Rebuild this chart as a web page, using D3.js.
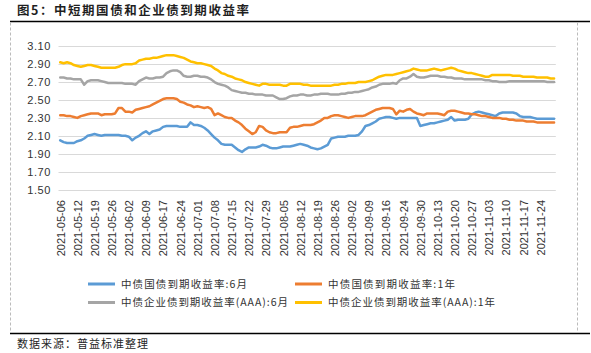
<!DOCTYPE html>
<html><head><meta charset="utf-8">
<script src="https://cdn.jsdelivr.net/npm/d3@7"></script>
<style>
html,body{margin:0;padding:0;background:#fff;}
svg{display:block;}
</style></head>
<body>
<svg id="chart" width="591" height="353"></svg>
<script>
const titleText = "图5：中短期国债和企业债到期收益率";
const sourceText = "数据来源：普益标准整理";

const dates = [
"2021-05-06","2021-05-07","2021-05-08","2021-05-10","2021-05-11","2021-05-12","2021-05-13","2021-05-14","2021-05-17","2021-05-18",
"2021-05-19","2021-05-20","2021-05-21","2021-05-24","2021-05-25","2021-05-26","2021-05-27","2021-05-28","2021-05-31","2021-06-01",
"2021-06-02","2021-06-03","2021-06-04","2021-06-07","2021-06-08","2021-06-09","2021-06-10","2021-06-11","2021-06-15","2021-06-16",
"2021-06-17","2021-06-18","2021-06-21","2021-06-22","2021-06-23","2021-06-24","2021-06-25","2021-06-28","2021-06-29","2021-06-30",
"2021-07-01","2021-07-02","2021-07-05","2021-07-06","2021-07-07","2021-07-08","2021-07-09","2021-07-12","2021-07-13","2021-07-14",
"2021-07-15","2021-07-16","2021-07-19","2021-07-20","2021-07-21","2021-07-22","2021-07-23","2021-07-26","2021-07-27","2021-07-28",
"2021-07-29","2021-07-30","2021-08-02","2021-08-03","2021-08-04","2021-08-05","2021-08-06","2021-08-09","2021-08-10","2021-08-11",
"2021-08-12","2021-08-13","2021-08-16","2021-08-17","2021-08-18","2021-08-19","2021-08-20","2021-08-23","2021-08-24","2021-08-25",
"2021-08-26","2021-08-27","2021-08-30","2021-08-31","2021-09-01","2021-09-02","2021-09-03","2021-09-06","2021-09-07","2021-09-08",
"2021-09-09","2021-09-10","2021-09-13","2021-09-14","2021-09-15","2021-09-16","2021-09-17","2021-09-18","2021-09-22","2021-09-23",
"2021-09-24","2021-09-26","2021-09-27","2021-09-28","2021-09-29","2021-09-30","2021-10-08","2021-10-09","2021-10-11","2021-10-12",
"2021-10-13","2021-10-14","2021-10-15","2021-10-18","2021-10-19","2021-10-20","2021-10-21","2021-10-22","2021-10-25","2021-10-26",
"2021-10-27","2021-10-28","2021-10-29","2021-11-01","2021-11-02","2021-11-03","2021-11-04","2021-11-05","2021-11-08","2021-11-09",
"2021-11-10","2021-11-11","2021-11-12","2021-11-15","2021-11-16","2021-11-17","2021-11-18","2021-11-19","2021-11-22","2021-11-23",
"2021-11-24","2021-11-25","2021-11-26","2021-11-29","2021-11-30"
];

const tickLabels = [
"2021-05-06","2021-05-12","2021-05-19","2021-05-26","2021-06-02","2021-06-09","2021-06-17","2021-06-24","2021-07-01","2021-07-08",
"2021-07-15","2021-07-22","2021-07-29","2021-08-05","2021-08-12","2021-08-19","2021-08-26","2021-09-02","2021-09-09","2021-09-16",
"2021-09-24","2021-09-30","2021-10-13","2021-10-20","2021-10-27","2021-11-03","2021-11-10","2021-11-17","2021-11-24"
];

const yTicks = [1.50, 1.70, 1.90, 2.10, 2.30, 2.50, 2.70, 2.90, 3.10];

const seriesNames = ["中债国债到期收益率:6月", "中债国债到期收益率:1年", "中债企业债到期收益率(AAA):6月", "中债企业债到期收益率(AAA):1年"];
const seriesColors = ["#5B9BD5", "#ED7D31", "#A5A5A5", "#FFC000"];

const govt6m = [
2.05,2.03,2.02,2.02,2.02, 2.04,2.05,2.07,2.10,2.11, 2.12,2.11,2.10,2.11,2.11, 2.11,2.11,2.11,2.10,2.10,
2.09,2.05,2.08,2.10,2.13, 2.15,2.12,2.15,2.16,2.17, 2.20,2.21,2.21,2.21,2.21, 2.20,2.20,2.20,2.25,2.22,
2.22,2.21,2.19,2.16,2.12, 2.08,2.05,2.01,2.00,2.00, 2.00,1.97,1.94,1.92,1.95, 1.97,1.97,1.97,1.98,2.00,
1.99,1.97,1.96,1.96,1.97, 1.98,1.98,1.98,1.99,2.00, 2.01,2.00,1.99,1.97,1.96, 1.95,1.96,1.98,2.00,2.07,
2.08,2.09,2.09,2.09,2.10, 2.10,2.10,2.11,2.15,2.21, 2.22,2.24,2.26,2.29,2.30, 2.31,2.31,2.30,2.29,2.30,
2.30,2.30,2.30,2.30,2.30, 2.21,2.22,2.23,2.24,2.24, 2.25,2.26,2.27,2.28,2.31, 2.27,2.28,2.28,2.28,2.29,
2.34,2.36,2.37,2.36,2.35, 2.34,2.33,2.32,2.35,2.36, 2.36,2.36,2.36,2.35,2.32, 2.31,2.31,2.31,2.30,2.29,
2.29,2.29,2.29,2.29,2.29
];

const govt1y = [
2.33,2.33,2.32,2.32,2.31, 2.30,2.32,2.33,2.34,2.35, 2.35,2.35,2.33,2.34,2.34, 2.34,2.35,2.41,2.41,2.37,
2.37,2.36,2.39,2.40,2.41, 2.42,2.43,2.45,2.47,2.49, 2.51,2.52,2.52,2.52,2.51, 2.48,2.47,2.45,2.44,2.42,
2.43,2.42,2.41,2.42,2.40, 2.33,2.35,2.33,2.31,2.30, 2.30,2.27,2.25,2.22,2.18, 2.15,2.12,2.14,2.21,2.20,
2.16,2.14,2.13,2.13,2.14, 2.14,2.14,2.19,2.20,2.20, 2.21,2.22,2.22,2.22,2.23, 2.25,2.27,2.30,2.30,2.32,
2.33,2.33,2.32,2.31,2.30, 2.31,2.32,2.32,2.32,2.33, 2.35,2.37,2.39,2.40,2.41, 2.41,2.41,2.40,2.34,2.38,
2.37,2.39,2.40,2.37,2.35, 2.34,2.33,2.35,2.35,2.35, 2.35,2.34,2.33,2.37,2.38, 2.38,2.37,2.36,2.35,2.35,
2.34,2.34,2.33,2.32,2.32, 2.31,2.30,2.30,2.30,2.29, 2.29,2.28,2.28,2.27,2.27, 2.27,2.26,2.26,2.26,2.25,
2.25,2.25,2.25,2.25,2.25
];

const corp6m = [
2.75,2.75,2.74,2.74,2.73, 2.73,2.73,2.67,2.71,2.72, 2.72,2.72,2.71,2.70,2.69, 2.69,2.69,2.69,2.69,2.68,
2.68,2.68,2.67,2.71,2.73, 2.75,2.74,2.74,2.75,2.75, 2.76,2.80,2.82,2.83,2.83, 2.81,2.77,2.76,2.76,2.77,
2.77,2.76,2.76,2.75,2.73, 2.70,2.68,2.67,2.66,2.64, 2.61,2.60,2.59,2.58,2.58, 2.57,2.57,2.56,2.56,2.56,
2.55,2.55,2.55,2.53,2.51, 2.51,2.52,2.54,2.55,2.55, 2.56,2.56,2.55,2.55,2.56, 2.56,2.57,2.57,2.57,2.56,
2.56,2.56,2.57,2.57,2.58, 2.58,2.59,2.59,2.60,2.61, 2.62,2.64,2.65,2.67,2.68, 2.68,2.68,2.69,2.68,2.72,
2.74,2.74,2.76,2.79,2.76, 2.75,2.75,2.76,2.77,2.77, 2.77,2.76,2.76,2.75,2.75, 2.74,2.74,2.74,2.73,2.73,
2.73,2.73,2.73,2.73,2.72, 2.72,2.71,2.71,2.70,2.70, 2.70,2.71,2.71,2.71,2.71, 2.71,2.71,2.71,2.71,2.71,
2.71,2.71,2.70,2.70,2.70
];

const corp1y = [
2.92,2.91,2.92,2.91,2.89, 2.88,2.87,2.88,2.89,2.89, 2.88,2.87,2.86,2.86,2.86, 2.86,2.86,2.87,2.89,2.90,
2.90,2.90,2.91,2.94,2.95, 2.96,2.96,2.97,2.97,2.98, 2.99,3.00,3.00,3.00,2.99, 2.98,2.97,2.95,2.93,2.92,
2.91,2.91,2.90,2.89,2.88, 2.85,2.83,2.80,2.79,2.77, 2.76,2.74,2.73,2.72,2.70, 2.69,2.68,2.67,2.66,2.68,
2.68,2.67,2.67,2.67,2.67, 2.66,2.66,2.68,2.68,2.68, 2.68,2.67,2.67,2.66,2.66, 2.66,2.66,2.66,2.66,2.66,
2.67,2.67,2.68,2.68,2.69, 2.69,2.69,2.70,2.70,2.70, 2.71,2.72,2.74,2.76,2.77, 2.78,2.78,2.78,2.79,2.80,
2.81,2.82,2.83,2.85,2.84, 2.83,2.83,2.83,2.84,2.85, 2.84,2.83,2.84,2.85,2.86, 2.85,2.83,2.82,2.81,2.80,
2.80,2.79,2.78,2.77,2.76, 2.76,2.78,2.78,2.78,2.78, 2.78,2.78,2.77,2.77,2.77, 2.76,2.76,2.76,2.76,2.75,
2.75,2.75,2.75,2.74,2.74
];

const seriesValues = [govt6m, govt1y, corp6m, corp1y];

const svg = d3.select("#chart");
const cjk = "'Noto Sans CJK SC', 'Noto Sans', sans-serif";
const latin = "'Liberation Sans', Arial, sans-serif";

// frame
svg.append("line").attr("x1", 10).attr("x2", 590).attr("y1", 21.5).attr("y2", 21.5)
  .attr("stroke", "#000").attr("stroke-width", 1.5);
svg.append("line").attr("x1", 10).attr("x2", 590).attr("y1", 333.5).attr("y2", 333.5)
  .attr("stroke", "#000").attr("stroke-width", 1.5);
[10.5, 577.5].forEach(x => {
  svg.append("line").attr("x1", x).attr("x2", x).attr("y1", 22.5).attr("y2", 333)
    .attr("stroke", "#bbb").attr("stroke-width", 1).attr("stroke-dasharray", "3,2");
});

// title & source
svg.append("text").attr("x", 17).attr("y", 15).text(titleText)
  .attr("font-family", cjk).attr("font-size", 12.5).attr("font-weight", "bold").attr("fill", "#1f1f1f")
  .attr("textLength", 232).attr("lengthAdjust", "spacing");
svg.append("text").attr("x", 17).attr("y", 348).text(sourceText)
  .attr("font-family", cjk).attr("font-size", 11).attr("fill", "#1f1f1f")
  .attr("textLength", 131).attr("lengthAdjust", "spacing");

// scales
const x = d3.scalePoint().domain(dates).range([58.5, 555.8]).padding(0.5);
const y = d3.scaleLinear().domain([1.5, 3.1]).range([189.6, 46.2]);

// gridlines
svg.append("g").selectAll("line").data(yTicks).join("line")
  .attr("x1", 58.5).attr("x2", 555.8)
  .attr("y1", d => Math.round(y(d)) + 0.5).attr("y2", d => Math.round(y(d)) + 0.5)
  .attr("stroke", "#D9D9D9").attr("stroke-width", 1);

// y axis
const yAxis = d3.axisLeft(y).tickValues(yTicks).tickFormat(d3.format(".2f")).tickSize(0).tickPadding(0);
const gy = svg.append("g").attr("transform", "translate(51,0)").call(yAxis);
gy.select(".domain").remove();
gy.selectAll("text").attr("font-family", latin).attr("font-size", 11).attr("fill", "#333")
  .attr("letter-spacing", "0.6px");

// x axis
const xAxis = d3.axisBottom(x).tickValues(tickLabels).tickSize(0).tickPadding(0);
const gx = svg.append("g").attr("transform", "translate(0,200)").call(xAxis);
gx.select(".domain").remove();
gx.selectAll("text")
  .attr("font-family", latin).attr("font-size", 11).attr("fill", "#333")
  .attr("transform", "rotate(-90)")
  .attr("text-anchor", "end").attr("x", 0).attr("y", 0).attr("dy", "0.35em");

// lines
const line = d3.line().x((d, i) => x(dates[i])).y(d => y(d));
svg.append("g").selectAll("path").data(seriesValues).join("path")
  .attr("d", d => line(d)).attr("fill", "none")
  .attr("stroke", (d, i) => seriesColors[i]).attr("stroke-width", 2.5)
  .attr("stroke-linejoin", "round").attr("stroke-linecap", "round");

// legend
const legendPos = [
  {lx: 88, ly: 284, tl: 126}, {lx: 295, ly: 284, tl: 127},
  {lx: 88, ly: 302.5, tl: 167}, {lx: 295, ly: 302.5, tl: 167}
];
const lg = svg.append("g").selectAll("g").data(seriesNames).join("g")
  .attr("transform", (d, i) => `translate(${legendPos[i].lx},${legendPos[i].ly})`);
lg.append("line").attr("x1", 0).attr("x2", 27).attr("y1", 0).attr("y2", 0)
  .attr("stroke", (d, i) => seriesColors[i]).attr("stroke-width", 3);
lg.append("text").attr("x", 33).attr("y", 0).attr("dy", "0.36em").text(d => d)
  .attr("font-family", cjk).attr("font-size", 10.5).attr("fill", "#333")
  .attr("textLength", (d, i) => legendPos[i].tl).attr("lengthAdjust", "spacing");
</script>
</body></html>
